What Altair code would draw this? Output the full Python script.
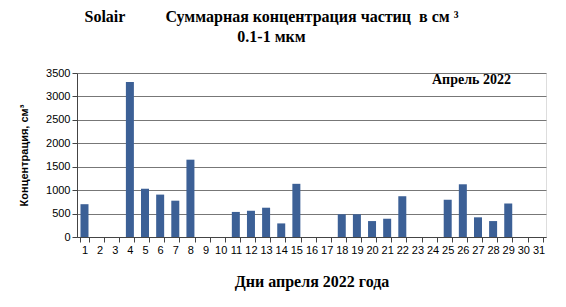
import altair as alt
import pandas as pd

days = list(range(1, 32))
values = [700, 0, 0, 3310, 1030, 905, 775, 1650, 0, 0,
          535, 560, 625, 290, 1135, 0, 0, 485, 485, 340,
          390, 870, 0, 0, 795, 1125, 420, 340, 715, 0, 0]

df = pd.DataFrame({"day": [str(d) for d in days], "value": values})
order = [str(d) for d in days]

serif = "Liberation Serif"
sans = "Liberation Sans"
nb = "\u00a0"

bars = alt.Chart(df).mark_bar(color="#3C6096", size=8).encode(
    x=alt.X("day:O", sort=order,
            scale=alt.Scale(paddingInner=0.45, paddingOuter=0.22),
            axis=alt.Axis(title="Дни апреля 2022 года", labelAngle=0,
                          tickBand="extent", labelFont=sans, labelFontSize=11,
                          labelColor="#000", titleFont=serif, titleFontSize=16,
                          titleFontWeight="bold", titleColor="#000", titlePadding=18,
                          domainColor="#444", tickColor="#444", tickSize=5,
                          labelPadding=2, grid=False)),
    y=alt.Y("value:Q", scale=alt.Scale(domain=[0, 3500], nice=False),
            axis=alt.Axis(title="Концентрация, см³", values=list(range(0, 3501, 500)),
                          format="d",
                          labelFont=sans, labelFontSize=11, labelColor="#000",
                          titleFont=sans, titleFontSize=11, titleFontWeight="bold",
                          titleColor="#000", titlePadding=16, domainColor="#444",
                          tickColor="#444", tickSize=5, gridColor="#777",
                          gridWidth=1)),
)

note = alt.Chart(pd.DataFrame({"t": ["Апрель 2022"]})).mark_text(
    font=serif, fontSize=14, fontWeight="bold", align="left", baseline="middle",
    color="#000").encode(text="t:N", x=alt.value(355), y=alt.value(7))

line1 = "Solair" + nb * 10 + "Суммарная концентрация частиц" + nb * 2 + "в см ³"

chart = alt.layer(bars, note).properties(
    width=469, height=164,
    padding={"left": 77, "top": 73, "right": 20, "bottom": 70},
    autosize=alt.AutoSizeParams(type="none"),
    title=alt.TitleParams(
        text=[line1, "0.1-1 мкм"],
        font=serif, fontSize=16, fontWeight="bold", color="#000",
        anchor="middle", dx=-40, offset=22, lineHeight=20),
).configure_view(stroke="#888", strokeWidth=1).configure(background="white")

chart.save("out.html", embed_options={"renderer": "svg", "actions": False})
